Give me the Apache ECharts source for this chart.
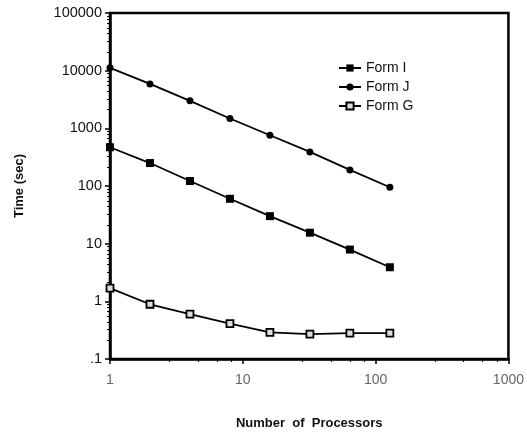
<!DOCTYPE html>
<html>
<head>
<meta charset="utf-8">
<script src="https://cdn.jsdelivr.net/npm/echarts@6/dist/echarts.min.js"></script>
<style>
  html, body { margin: 0; padding: 0; background: #fff; }
  #main { width: 527px; height: 435px; }
</style>
</head>
<body>
<div id="main"></div>
<script>
// number of processors (x)
var processors = [1, 2, 4, 8, 16, 32, 64, 128];
// time in seconds
var formI = [470, 250, 122, 60, 30, 15.5, 7.9, 3.9];
var formJ = [11200, 5900, 3000, 1480, 760, 390, 190, 95];
var formG = [1.7, 0.89, 0.6, 0.41, 0.29, 0.27, 0.28, 0.28];
var seriesNames = ["Form I", "Form J", "Form G"];

function pairs(ys) {
  return processors.map(function (x, i) { return [x, ys[i]]; });
}

var chart = echarts.init(document.getElementById("main"));
var font = "Liberation Sans, Arial, sans-serif";

var option = {
  animation: false,
  backgroundColor: "#fff",
  grid: {
    left: 110, right: 17, top: 13, bottom: 73,
    show: true, borderColor: "#000", borderWidth: 2.5
  },
  legend: {
    orient: "vertical",
    left: 333, top: 56,
    itemGap: 5, itemWidth: 22, itemHeight: 9,
    data: seriesNames,
    textStyle: { fontFamily: font, fontSize: 14, color: "#111" }
  },
  xAxis: {
    type: "log", logBase: 10, min: 1, max: 1000,
    name: "Number  of  Processors",
    nameLocation: "middle", nameGap: 58,
    nameTextStyle: { fontFamily: font, fontSize: 13, fontWeight: "bold", color: "#111" },
    axisLine: { lineStyle: { color: "#000", width: 2.5 } },
    axisTick: { show: true, length: 5, lineStyle: { color: "#000", width: 1.5 } },
    minorTick: { show: true, splitNumber: 5, length: 3, lineStyle: { color: "#000" } },
    axisLabel: {
      margin: 14, fontFamily: font, fontSize: 14, color: "#666",
      formatter: function (v) { return String(Math.round(v)); }
    },
    splitLine: { show: false }
  },
  yAxis: {
    type: "log", logBase: 10, min: 0.1, max: 100000,
    name: "Time (sec)",
    nameLocation: "middle", nameGap: 84,
    nameTextStyle: { fontFamily: font, fontSize: 13, fontWeight: "bold", color: "#111" },
    axisLine: { lineStyle: { color: "#000", width: 2.5 } },
    axisTick: { show: true, length: 5, lineStyle: { color: "#000", width: 1.5 } },
    minorTick: { show: true, splitNumber: 8, length: 3, lineStyle: { color: "#000" } },
    axisLabel: {
      margin: 8, fontFamily: font, fontSize: 14.5, color: "#111",
      formatter: function (v) { return v < 1 ? ".1" : String(Math.round(v)); }
    },
    splitLine: { show: false }
  },
  series: [
    {
      name: seriesNames[0], type: "line", data: pairs(formI),
      symbol: "rect", symbolSize: 8,
      itemStyle: { color: "#000" },
      lineStyle: { color: "#000", width: 1.8 }
    },
    {
      name: seriesNames[1], type: "line", data: pairs(formJ),
      symbol: "circle", symbolSize: 7,
      itemStyle: { color: "#000" },
      lineStyle: { color: "#000", width: 1.8 }
    },
    {
      name: seriesNames[2], type: "line", data: pairs(formG),
      symbol: "rect", symbolSize: 7,
      itemStyle: { color: "#ddd", borderColor: "#000", borderWidth: 1.8 },
      lineStyle: { color: "#000", width: 1.8 }
    }
  ]
};

chart.setOption(option);
</script>
</body>
</html>
